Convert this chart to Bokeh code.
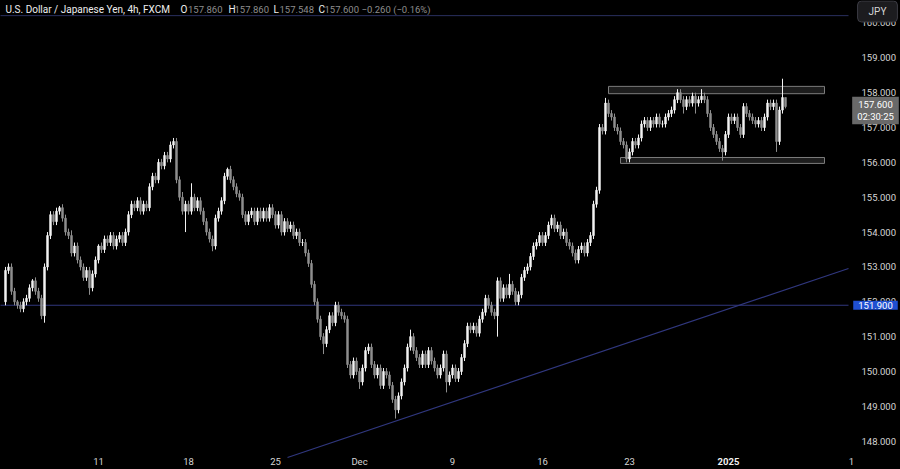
import math
from bokeh.plotting import figure
from bokeh.models import LinearAxis, FixedTicker, PrintfTickFormatter, Label, ColumnDataSource
from bokeh.embed import file_html
from bokeh.resources import INLINE

# ---------------- data (USD/JPY, 4h candles) ----------------
first_open = 152.0
closes = [
    152.9, 153.0, 152.3, 152.0, 151.9, 151.8, 152.0, 152.1, 152.4, 152.6,
    152.3, 152.1, 151.6, 153.0, 153.9, 154.5, 154.3, 154.6, 154.7, 154.4,
    154.0, 153.9, 153.4, 153.6, 153.2, 153.0, 152.7, 152.9, 152.4, 152.8,
    153.2, 153.6, 153.5, 153.8, 153.7, 153.9, 153.6, 153.8, 153.9, 153.7,
    154.0, 154.5, 154.8, 154.7, 154.9, 154.6, 154.8, 154.7, 155.3, 155.6,
    155.5, 156.0, 155.9, 156.2, 156.1, 156.5, 156.6, 155.5, 155.0, 154.6,
    154.8, 154.6, 155.0, 154.7, 154.9, 154.6, 154.3, 154.0, 153.8, 153.6,
    154.4, 154.6, 154.9, 155.6, 155.8, 155.5, 155.3, 155.1, 155.0, 154.5,
    154.3, 154.5, 154.6, 154.3, 154.6, 154.4, 154.6, 154.4, 154.7, 154.5,
    154.2, 154.5, 154.0, 154.3, 154.1, 154.2, 153.9, 154.0, 153.7, 153.7,
    153.4, 153.1, 152.5, 152.0, 151.5, 151.0, 150.8, 151.2, 151.6, 151.4,
    151.9, 151.7, 151.6, 151.5, 150.2, 149.9, 150.3, 150.0, 149.7, 150.1,
    150.6, 150.7, 150.2, 149.9, 150.1, 149.6, 150.0, 149.9, 149.6, 149.2,
    148.9, 149.3, 149.7, 150.1, 150.7, 151.0, 150.6, 150.4, 150.2, 150.5,
    150.2, 150.6, 150.3, 150.1, 149.9, 150.1, 150.5, 149.7, 149.9, 150.1,
    149.8, 150.0, 150.4, 150.8, 151.3, 151.2, 151.3, 151.1, 151.5, 151.7,
    152.1, 151.9, 151.7, 151.6, 152.6, 152.1, 152.4, 152.2, 152.5, 152.3,
    152.0, 152.2, 152.7, 152.9, 153.0, 153.3, 153.6, 153.7, 153.9, 153.7,
    153.9, 154.2, 154.4, 154.1, 154.2, 153.9, 154.0, 153.7, 153.6, 153.4,
    153.2, 153.5, 153.6, 153.4, 153.7, 153.9, 154.8, 155.2, 157.0, 156.9,
    157.7, 157.4, 157.3, 157.0, 156.9, 156.6, 156.5, 156.1, 156.3, 156.6,
    156.5, 156.7, 157.1, 157.2, 157.0, 157.2, 157.1, 157.3, 157.1, 157.1,
    157.3, 157.4, 157.5, 157.8, 158.0, 157.8, 157.6, 157.8, 157.7, 157.9,
    157.7, 157.8, 157.9, 157.8, 157.4, 157.0, 156.8, 156.6, 156.4, 156.3,
    156.8, 157.3, 157.2, 157.3, 157.0, 156.8, 157.6, 157.4, 157.3, 157.2,
    157.1, 157.2, 157.0, 157.3, 157.7, 157.6, 157.7, 156.6, 157.5, 157.86,
    157.6,
]
wick_up = [
    .1, .1, .1, .1, .05, .1, .1, .1, .1, .05,
    .1, .1, .1, .1, .1, .1, .1, .1, .05, .1,
    .1, .1, .15, .1, .1, .1, .1, .1, .1, .1,
    .1, .05, .1, .1, .1, .1, .1, .1, .1, .1,
    .1, .1, .1, .1, .1, .1, .1, .1, .1, .1,
    .1, .1, .1, .1, .1, .1, .1, .1, .1, .15,
    .1, .1, .4, .1, .1, .1, .1, .1, .1, .1,
    .1, .1, .1, .1, .05, .1, .1, .1, .1, .1,
    .1, .1, .1, .1, .1, .1, .1, .1, .1, .1,
    .1, .1, .1, .1, .1, .1, .1, .1, .1, .1,
    .1, .1, .1, .1, .1, .1, .1, .1, .1, .1,
    .1, .1, .1, .1, .1, .1, .1, .1, .1, .1,
    .1, .1, .1, .1, .1, .1, .1, .1, .1, .1,
    .1, .1, .1, .1, .1, .2, .1, .1, .1, .1,
    .1, .1, .1, .1, .1, .1, .1, .1, .1, .1,
    .1, .1, .1, .1, .1, .1, .1, .1, .1, .1,
    .1, .1, .1, .1, .1, .1, .1, .1, .3, .1,
    .1, .1, .1, .1, .1, .1, .1, .1, .1, .1,
    .1, .1, .1, .1, .1, .1, .1, .1, .1, .1,
    .1, .1, .1, .1, .1, .1, .1, .1, .1, .1,
    .15, .1, .1, .1, .1, .1, .1, .1, .1, .1,
    .1, .1, .1, .1, .1, .1, .1, .1, .1, .1,
    .1, .1, .1, .1, .1, .1, .1, .1, .1, .1,
    .1, .1, .2, .1, .1, .1, .1, .1, .1, .1,
    .1, .1, .1, .1, .1, .1, .1, .1, .1, .1,
    .1, .1, .1, .1, .1, .1, .1, .1, .1, .54,
    0.0,
]
wick_dn = [
    .1, .1, .1, .1, .1, .1, .1, .1, .1, .1,
    .1, .1, .1, .2, .1, .1, .1, .1, .1, .1,
    .1, .1, .1, .1, .1, .1, .1, .1, .2, .1,
    .1, .1, .1, .1, .1, .1, .1, .1, .1, .1,
    .1, .1, .1, .1, .1, .1, .1, .1, .1, .1,
    .1, .1, .1, .1, .1, .1, .1, .1, .1, .1,
    .6, .1, .1, .1, .1, .1, .1, .1, .1, .15,
    .1, .1, .1, .1, .1, .1, .1, .1, .1, .1,
    .1, .1, .1, .1, .1, .1, .1, .1, .1, .1,
    .1, .1, .1, .1, .1, .1, .1, .1, .1, .1,
    .1, .1, .1, .1, .1, .1, .3, .1, .1, .1,
    .1, .1, .1, .1, .1, .1, .1, .1, .2, .1,
    .1, .1, .1, .1, .1, .1, .1, .1, .1, .1,
    .25, .1, .1, .1, .1, .1, .1, .1, .1, .1,
    .1, .1, .1, .1, .1, .1, .1, .3, .1, .1,
    .1, .1, .1, .1, .1, .1, .1, .1, .1, .1,
    .1, .1, .1, .1, .6, .1, .1, .1, .1, .1,
    .1, .1, .1, .1, .1, .1, .1, .1, .1, .1,
    .1, .1, .1, .1, .1, .1, .1, .1, .1, .1,
    .1, .1, .1, .1, .1, .1, .1, .1, .1, .1,
    .1, .1, .1, .1, .1, .1, .1, .1, .1, .1,
    .1, .1, .1, .1, .1, .1, .1, .1, .1, .1,
    .1, .1, .1, .1, .1, .1, .2, .1, .1, .1,
    .3, .1, .1, .1, .1, .1, .1, .1, .1, .25,
    .1, .1, .1, .1, .1, .1, .1, .1, .1, .1,
    .1, .1, .1, .1, .1, .1, .1, .3, .1, .1,
    .052,
]

price_ticks = [148, 149, 150, 151, 152, 153, 154, 155, 156, 157, 158, 159, 160]
date_tick_pos = [31, 61, 90, 118, 149, 179, 208]
date_tick_labels = ["11", "18", "25", "Dec", "9", "16", "23"]
year_tick_pos = 241
year_tick_label = "2025"
next_tick_label = "1"

level_price = 151.9
header_level_price = 160.21
trend_x = [94, 281]
trend_y = [147.533, 152.955]
box_left = [201, 205]
box_right = [273, 273]
box_top = [158.18, 156.14]
box_bottom = [157.97, 155.97]

title_main = "U.S. Dollar / Japanese Yen, 4h, FXCM"
ohlc_keys = ["O", "H", "L", "C"]
ohlc_vals = ["157.860", "157.860", "157.548", "157.600"]
change_text = "\u22120.260 (\u22120.16%)"
last_price_text = "157.600\n02:30:25"
level_text = "151.900"
currency_text = "JPY"

# ---------------- build candles ----------------
n = len(closes)
idx = list(range(n))
opens = [first_open] + closes[:-1]
highs = [max(o, c) + u for o, c, u in zip(opens, closes, wick_up)]
lows = [min(o, c) - d for o, c, d in zip(opens, closes, wick_dn)]
UP, DOWN = "#f2f2f2", "#8e8e8e"
colors = [UP if c >= o else DOWN for o, c in zip(opens, closes)]
src = ColumnDataSource(dict(x=idx, o=opens, h=highs, l=lows, c=closes,
                            top=[max(o, c) for o, c in zip(opens, closes)],
                            bottom=[min(o, c) for o, c in zip(opens, closes)],
                            color=colors))

# ---------------- figure: frame covers the whole canvas ----------------
W, H = 900, 469
PX_PER_BAR = 3.0
PX_PER_YEN = 34.855
X0 = -5 / PX_PER_BAR
YTOP = 160.644
x_end = X0 + W / PX_PER_BAR
y_bottom = YTOP - H / PX_PER_YEN
PANE_RIGHT_X = X0 + 848 / PX_PER_BAR        # price-scale boundary (data x)
PANE_BOTTOM_Y = YTOP - 452 / PX_PER_YEN     # time-scale boundary (data y)

p = figure(width=W, height=H, x_range=(X0, x_end), y_range=(y_bottom, YTOP),
           output_backend="svg", toolbar_location=None,
           x_axis_location=None, y_axis_location=None,
           background_fill_color="#000000", border_fill_color="#000000",
           outline_line_color=None,
           min_border_left=0, min_border_top=0, min_border_right=0, min_border_bottom=0)
p.grid.visible = False

NAVY = "#30377e"
p.ray(x=[PANE_RIGHT_X], y=[level_price], length=0, angle=math.pi, line_color=NAVY, line_width=1.2)
p.ray(x=[PANE_RIGHT_X], y=[header_level_price], length=0, angle=math.pi, line_color="#2a2f5e", line_width=1)
p.line(trend_x, trend_y, line_color=NAVY, line_width=1.2)

p.quad(left=box_left, right=box_right, top=box_top, bottom=box_bottom,
       fill_color="#1d1d1d", line_color="#7c7c7c", line_width=1)

p.segment(x0="x", y0="l", x1="x", y1="h", source=src, line_color="color", line_width=1)
p.vbar(x="x", top="top", bottom="bottom", width=0.66, source=src,
       fill_color="color", line_color="color", line_width=0.5)

FONT = "Roboto"
AX = "#d6d6d6"
yaxis = LinearAxis(ticker=FixedTicker(ticks=price_ticks),
                   formatter=PrintfTickFormatter(format="%.3f"),
                   fixed_location=PANE_RIGHT_X,
                   axis_line_color=None, major_tick_line_color=None, minor_tick_line_color=None,
                   major_tick_out=0, major_tick_in=0,
                   major_label_text_color=AX, major_label_text_font=FONT,
                   major_label_text_font_size="9.5px", major_label_standoff=13)
p.add_layout(yaxis, "right")

xaxis = LinearAxis(ticker=FixedTicker(ticks=date_tick_pos),
                   major_label_overrides={k: v for k, v in zip(date_tick_pos, date_tick_labels)},
                   fixed_location=PANE_BOTTOM_Y,
                   axis_line_color=None, major_tick_line_color=None, minor_tick_line_color=None,
                   major_tick_out=0, major_tick_in=0,
                   major_label_text_color=AX, major_label_text_font=FONT,
                   major_label_text_font_size="9.5px", major_label_standoff=3)
p.add_layout(xaxis, "below")

# label helper: screen y measured from the bottom of the canvas
def cy(y_canvas):
    return H - y_canvas

p.add_layout(Label(x=year_tick_pos, y=cy(461), x_units="data", y_units="screen", text=year_tick_label,
                   text_align="center", text_baseline="middle", text_color="#f0f0f0",
                   text_font=FONT, text_font_size="9.5px", text_font_style="bold"))
p.add_layout(Label(x=851, y=cy(461), x_units="screen", y_units="screen", text=next_tick_label,
                   text_align="center", text_baseline="middle", text_color=AX,
                   text_font=FONT, text_font_size="9.5px"))

# header legend
TY = cy(9)
p.add_layout(Label(x=5, y=TY, x_units="screen", y_units="screen", text=title_main,
                   text_baseline="middle", text_color="#eeeeee", text_font=FONT, text_font_size="10px"))
key_x = [180, 228, 273, 318]
val_x = [187.5, 234, 279, 324]
for k, v, kx, vx in zip(ohlc_keys, ohlc_vals, key_x, val_x):
    p.add_layout(Label(x=kx, y=TY, x_units="screen", y_units="screen", text=k,
                       text_baseline="middle", text_color="#eeeeee", text_font=FONT, text_font_size="10px"))
    p.add_layout(Label(x=vx, y=TY, x_units="screen", y_units="screen", text=v,
                       text_baseline="middle", text_color="#8d8d8d", text_font=FONT, text_font_size="9.5px"))
p.add_layout(Label(x=361, y=TY, x_units="screen", y_units="screen", text=change_text,
                   text_baseline="middle", text_color="#8d8d8d", text_font=FONT, text_font_size="9.5px"))

# price-scale badges
p.add_layout(Label(x=875, y=cy(110), x_units="screen", y_units="screen", text=last_price_text,
                   text_align="center", text_baseline="middle", text_color="#ffffff",
                   text_font=FONT, text_font_size="9.5px", text_line_height=1.15,
                   background_fill_color="#696969",
                   padding=dict(left=5, right=5, top=2, bottom=2)))
p.add_layout(Label(x=875, y=level_price, x_units="screen", y_units="data", text=level_text,
                   text_align="center", text_baseline="middle", text_color="#ffffff",
                   text_font=FONT, text_font_size="9.5px",
                   background_fill_color="#1f4fd1",
                   padding=dict(left=5, right=5, top=1, bottom=1)))
p.add_layout(Label(x=877, y=cy(11), x_units="screen", y_units="screen", text=currency_text,
                   text_align="center", text_baseline="middle", text_color="#d6d6d6",
                   text_font=FONT, text_font_size="10px",
                   background_fill_color="#1c1c1f", border_line_color="#3c3c44",
                   border_radius=4, padding=dict(left=11, right=11, top=5, bottom=5)))

template = """
{% block preamble %}<style>html, body {margin:0 !important; padding:0; background:#000000; overflow:hidden;}</style>{% endblock %}
"""
open("out.html", "w").write(file_html(p, INLINE, title="USDJPY 4h", template=template))
